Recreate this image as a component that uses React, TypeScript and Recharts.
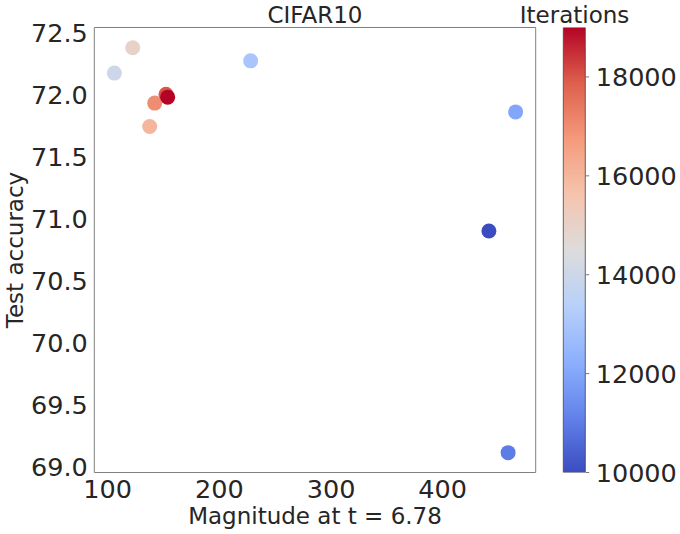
import React from 'react';
import { ScatterChart, Scatter, XAxis, YAxis, BarChart, Bar, Label, ReferenceArea } from 'recharts';

const iterations = [10000, 11000, 12000, 13000, 14000, 15000, 16000, 17000, 18000, 19000];
const magnitude = [441.4, 458.6, 465.3, 228.0, 106.0, 122.4, 137.6, 142.1, 152.2, 153.7];
const accuracy = [70.903, 69.115, 71.864, 72.276, 72.177, 72.382, 71.746, 71.935, 72.007, 71.983];

const xTicks = [100, 200, 300, 400];
const yTicks = [69.0, 69.5, 70.0, 70.5, 71.0, 71.5, 72.0, 72.5];
const cbTicks = [10000, 12000, 14000, 16000, 18000];
const cbMin = 10000;
const cbMax = 19000;
const xDomain: [number, number] = [88, 483.3];
const yDomain: [number, number] = [68.955, 72.545];

const coolwarm: [number, number, number, number][] = [
  [0.0, 59, 76, 192],
  [0.125, 98, 130, 234],
  [0.25, 141, 176, 254],
  [0.375, 184, 208, 249],
  [0.5, 221, 220, 220],
  [0.625, 245, 196, 173],
  [0.75, 244, 154, 123],
  [0.875, 222, 96, 77],
  [1.0, 180, 4, 38],
];

function cmap(t: number): string {
  const v = Math.max(0, Math.min(1, t));
  for (let i = 0; i < coolwarm.length - 1; i++) {
    const a = coolwarm[i];
    const b = coolwarm[i + 1];
    if (v >= a[0] && v <= b[0]) {
      const f = (v - a[0]) / (b[0] - a[0]);
      const r = Math.round(a[1] + (b[1] - a[1]) * f);
      const g = Math.round(a[2] + (b[2] - a[2]) * f);
      const bl = Math.round(a[3] + (b[3] - a[3]) * f);
      return `rgb(${r},${g},${bl})`;
    }
  }
  return 'rgb(180,4,38)';
}

const data = iterations.map((it, i) => ({ iter: it, x: magnitude[i], y: accuracy[i] }));
const cbData = [{ name: 'cb', v: cbMax }];

const FONT = '"DejaVu Sans", sans-serif';
const TXT = '#262626';
const SPINE = '#808080';

const XTick = (p: any) => (
  <text x={p.x} y={p.y} dy={25.8} textAnchor="middle" fontSize={25.5} fontFamily={FONT} fill={TXT}>
    {p.payload.value}
  </text>
);
const YTick = (p: any) => (
  <text x={p.x - 6.5} y={p.y} dy={9.2} textAnchor="end" fontSize={25.5} fontFamily={FONT} fill={TXT}>
    {Number(p.payload.value).toFixed(1)}
  </text>
);
const CbTick = (p: any) => (
  <text x={p.x + 6.5} y={p.y} dy={9.2} textAnchor="start" fontSize={25.5} fontFamily={FONT} fill={TXT}>
    {p.payload.value}
  </text>
);

const Dot = (p: any) => (
  <circle cx={p.cx} cy={p.cy} r={7.5} fill={cmap((p.payload.iter - cbMin) / (cbMax - cbMin))} />
);

export default function App() {
  return (
    <div style={{ position: 'absolute', left: 0, top: 0, width: 680, height: 534, background: '#fff' }}>
      <svg width={0} height={0} style={{ position: 'absolute' }}>
        <defs>
          <linearGradient id="cw" x1="0" y1="1" x2="0" y2="0">
            {coolwarm.map((c) => (
              <stop key={c[0]} offset={c[0]} stopColor={`rgb(${c[1]},${c[2]},${c[3]})`} />
            ))}
          </linearGradient>
        </defs>
      </svg>
      <div style={{ position: 'absolute', left: 0, top: 0 }}>
        <ScatterChart width={680} height={534} margin={{ top: 27.5, right: 144.3, bottom: 0, left: 0 }}>
          <XAxis
            xAxisId="b"
            type="number"
            dataKey="x"
            domain={xDomain}
            allowDataOverflow
            ticks={xTicks}
            height={61.5}
            tickLine={false}
            tickSize={0}
            tickMargin={0}
            tick={XTick}
            axisLine={false}
          >
            <Label
              content={(p: any) => (
                <text x={p.viewBox.x + p.viewBox.width / 2} y={524.3} textAnchor="middle" fontSize={23} fontFamily={FONT} fill={TXT}>
                  Magnitude at t = 6.78
                </text>
              )}
            />
          </XAxis>
          <YAxis
            yAxisId="l"
            type="number"
            dataKey="y"
            domain={yDomain}
            allowDataOverflow
            ticks={yTicks}
            width={94.3}
            tickLine={false}
            tickSize={0}
            tickMargin={0}
            tick={YTick}
            axisLine={false}
          >
            <Label
              content={(p: any) => {
                const cy = p.viewBox.y + p.viewBox.height / 2;
                const cx = p.viewBox.x + p.viewBox.width / 2;
                return (
                  <g>
                    <text x={23} y={cy} transform={`rotate(-90, 23, ${cy})`} textAnchor="middle" fontSize={23} fontFamily={FONT} fill={TXT}>
                      Test accuracy
                    </text>
                    <text x={315} y={22.5} textAnchor="middle" fontSize={23} fontFamily={FONT} fill={TXT}>
                      CIFAR10
                    </text>
                  </g>
                );
              }}
            />
          </YAxis>
          <ReferenceArea
            xAxisId="b"
            yAxisId="l"
            x1={xDomain[0]}
            x2={xDomain[1]}
            y1={yDomain[0]}
            y2={yDomain[1]}
            fill="none"
            fillOpacity={0}
            stroke={SPINE}
            strokeWidth={1}
            ifOverflow="visible"
          />
          <Scatter data={data} xAxisId="b" yAxisId="l" shape={Dot} isAnimationActive={false} />
        </ScatterChart>
      </div>
      <div style={{ position: 'absolute', left: 0, top: 0 }}>
        <BarChart
          width={680}
          height={534}
          data={cbData}
          margin={{ top: 27.5, right: 0, bottom: 61.5, left: 563.3 }}
          barCategoryGap={0}
          barGap={0}
        >
          <XAxis dataKey="name" hide />
          <YAxis
            orientation="right"
            type="number"
            domain={[cbMin, cbMax]}
            allowDataOverflow
            ticks={cbTicks}
            width={94.3}
            axisLine={false}
            tickSize={3.5}
            tickMargin={0}
            tickLine={{ stroke: '#555', strokeWidth: 0.8 }}
            tick={CbTick}
          >
            <Label
              content={(p: any) => (
                <text x={p.viewBox.x - 11.2} y={22.5} textAnchor="middle" fontSize={23} fontFamily={FONT} fill={TXT}>
                  Iterations
                </text>
              )}
            />
          </YAxis>
          <Bar dataKey="v" fill="url(#cw)" stroke="#444" strokeWidth={0.8} isAnimationActive={false} />
        </BarChart>
      </div>
    </div>
  );
}
